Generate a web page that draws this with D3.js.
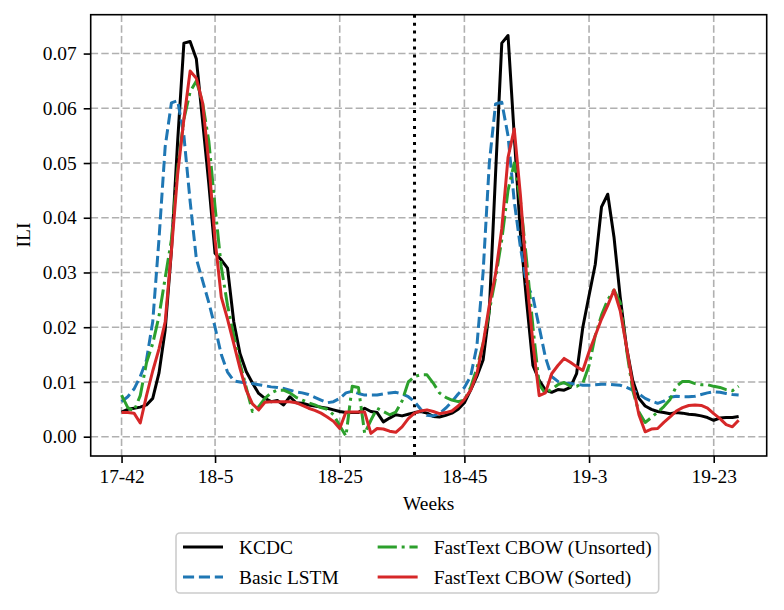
<!DOCTYPE html>
<html><head><meta charset="utf-8">
<script src="https://cdn.jsdelivr.net/npm/d3@7"></script>
<style>
body{margin:0;background:#fff}
svg{display:block}
text{font-family:"Liberation Serif","Times New Roman",serif}
</style>
</head><body>
<svg id="c" width="784" height="610"></svg>
<script>
const weekTicks=[0,15,35,55,75,95];
const weekLabels=["17-42","18-5","18-25","18-45","19-3","19-23"];
const yTicks=[0,0.01,0.02,0.03,0.04,0.05,0.06,0.07];
const splitWeek=47;

const kcdc=[0.0045,0.0050,0.0052,0.0054,0.0058,0.0070,0.0116,0.0195,0.0340,0.0540,
0.0719,0.0722,0.0690,0.0577,0.0462,0.0335,0.0323,0.0308,0.0210,0.0152,
0.0119,0.0098,0.0079,0.0070,0.0064,0.0066,0.0058,0.0073,0.0062,0.0061,
0.0058,0.0056,0.0054,0.0052,0.0049,0.0046,0.0044,0.0044,0.0044,0.0052,
0.0046,0.0044,0.0027,0.0034,0.0040,0.0038,0.0041,0.0044,0.0046,0.0043,
0.0037,0.0036,0.0039,0.0043,0.0050,0.0062,0.0085,0.0110,0.0140,0.0230,
0.0480,0.0719,0.0733,0.0550,0.0370,0.0245,0.0130,0.0103,0.0085,0.0081,
0.0086,0.0085,0.0090,0.0115,0.0200,0.0258,0.0315,0.0420,0.0443,0.0365,
0.0255,0.0164,0.0103,0.0070,0.0056,0.0050,0.0046,0.0044,0.0042,0.0044,
0.0043,0.0041,0.0040,0.0038,0.0035,0.0030,0.0034,0.0035,0.0035,0.0037];

const basicLstm=[0.0064,0.0073,0.0087,0.0110,0.0140,0.0210,0.0360,0.0530,0.0610,0.0614,
0.0550,0.0430,0.0325,0.0285,0.0245,0.0200,0.0150,0.0118,0.0102,0.0100,
0.0098,0.0097,0.0095,0.0093,0.0091,0.0090,0.0088,0.0085,0.0082,0.0080,
0.0077,0.0072,0.0067,0.0062,0.0064,0.0070,0.0080,0.0083,0.0079,0.0076,
0.0076,0.0076,0.0078,0.0080,0.0081,0.0078,0.0073,0.0064,0.0050,0.0039,
0.0038,0.0042,0.0052,0.0064,0.0078,0.0090,0.0110,0.0165,0.0300,0.0500,
0.0608,0.0611,0.0550,0.0430,0.0345,0.0279,0.0255,0.0200,0.0145,0.0110,
0.0101,0.0098,0.0097,0.0096,0.0094,0.0094,0.0095,0.0096,0.0096,0.0095,
0.0094,0.0090,0.0085,0.0078,0.0070,0.0065,0.0061,0.0065,0.0072,0.0074,
0.0073,0.0073,0.0074,0.0077,0.0080,0.0082,0.0081,0.0079,0.0077,0.0076];

const cbowUnsorted=[0.0076,0.0053,0.0047,0.0075,0.0135,0.0170,0.0220,0.0290,0.0360,0.0490,
0.0580,0.0630,0.0650,0.0610,0.0540,0.0420,0.0310,0.0240,0.0185,0.0134,
0.0090,0.0046,0.0055,0.0070,0.0080,0.0085,0.0085,0.0080,0.0072,0.0067,
0.0062,0.0058,0.0053,0.0050,0.0040,0.0020,0.0001,0.0092,0.0090,0.0006,
0.0030,0.0052,0.0046,0.0040,0.0045,0.0065,0.0100,0.0110,0.0113,0.0113,
0.0098,0.0080,0.0072,0.0067,0.0064,0.0067,0.0090,0.0125,0.0170,0.0230,
0.0290,0.0360,0.0450,0.0500,0.0430,0.0320,0.0200,0.0095,0.0079,0.0087,
0.0095,0.0099,0.0092,0.0092,0.0098,0.0130,0.0185,0.0222,0.0250,0.0268,
0.0245,0.0160,0.0085,0.0045,0.0026,0.0035,0.0045,0.0055,0.0068,0.0092,
0.0101,0.0101,0.0097,0.0095,0.0095,0.0092,0.0090,0.0086,0.0084,0.0092];

const cbowSorted=[0.0044,0.0044,0.0043,0.0025,0.0075,0.0120,0.0160,0.0210,0.0340,0.0480,
0.0580,0.0668,0.0655,0.0610,0.0500,0.0360,0.0255,0.0215,0.0170,0.0125,
0.0085,0.0060,0.0049,0.0063,0.0064,0.0064,0.0064,0.0064,0.0062,0.0057,
0.0052,0.0048,0.0043,0.0036,0.0028,0.0015,0.0045,0.0045,0.0045,0.0045,
0.0006,0.0015,0.0014,0.0010,0.0008,0.0018,0.0033,0.0043,0.0047,0.0049,
0.0046,0.0042,0.0044,0.0047,0.0056,0.0068,0.0085,0.0115,0.0170,0.0240,
0.0297,0.0380,0.0510,0.0562,0.0440,0.0290,0.0170,0.0075,0.0080,0.0115,
0.0130,0.0143,0.0136,0.0128,0.0121,0.0155,0.0185,0.0215,0.0240,0.0268,
0.0230,0.0165,0.0095,0.0040,0.0009,0.0014,0.0015,0.0026,0.0036,0.0047,
0.0053,0.0057,0.0058,0.0057,0.0052,0.0042,0.0033,0.0022,0.0018,0.0030];

const seriesNames=["KCDC","Basic LSTM","FastText CBOW (Unsorted)","FastText CBOW (Sorted)"];
const seriesData=[kcdc,basicLstm,cbowUnsorted,cbowSorted];
const seriesColors=["#000000","#1f77b4","#2ca02c","#d62728"];
const seriesDash=[null,"11.1,4.8","19.2,4.8,3,4.8",null];

const FS=19.4;
const svg=d3.select("#c");
svg.append("rect").attr("width",784).attr("height",610).attr("fill","#fff");
const L=90.7,R=766.7,T=14.7,B=456;
const x=d3.scaleLinear().domain([-4.95,103.5]).range([L,R]);
const y=d3.scaleLinear().domain([-0.00353,0.0771]).range([B,T]);

// grid
const g=svg.append("g");
g.selectAll(".vg").data(weekTicks).enter().append("line")
 .attr("x1",d=>x(d)).attr("x2",d=>x(d)).attr("y1",T).attr("y2",B)
 .attr("stroke","#b0b0b0").attr("stroke-width",1.6).attr("stroke-dasharray","7.4,3.2");
g.selectAll(".hg").data(yTicks).enter().append("line")
 .attr("x1",L).attr("x2",R).attr("y1",d=>y(d)).attr("y2",d=>y(d))
 .attr("stroke","#b0b0b0").attr("stroke-width",1.6).attr("stroke-dasharray","7.4,3.2");

// split line
svg.append("line").attr("x1",x(splitWeek)).attr("x2",x(splitWeek)).attr("y1",T).attr("y2",B)
 .attr("stroke","#000").attr("stroke-width",3).attr("stroke-dasharray","3,4.95");

// lines
const line=d3.line().x((d,i)=>x(i)).y(d=>y(d));
seriesData.forEach((s,k)=>{
  const p=svg.append("path").datum(s).attr("d",line).attr("fill","none")
   .attr("stroke",seriesColors[k]).attr("stroke-width",3).attr("stroke-linejoin","round");
  if(seriesDash[k]) p.attr("stroke-dasharray",seriesDash[k]);
});

// frame
svg.append("rect").attr("x",L).attr("y",T).attr("width",R-L).attr("height",B-T)
 .attr("fill","none").attr("stroke","#000").attr("stroke-width",1.6);

// axes
const xa=svg.append("g").attr("transform",`translate(0,${B})`)
 .call(d3.axisBottom(x).tickValues(weekTicks).tickFormat((d,i)=>weekLabels[i]).tickSize(7).tickPadding(6));
const ya=svg.append("g").attr("transform",`translate(${L},0)`)
 .call(d3.axisLeft(y).tickValues(yTicks).tickFormat(d3.format(".2f")).tickSize(7).tickPadding(7));
[xa,ya].forEach(a=>{
  a.select(".domain").remove();
  a.selectAll("line").attr("stroke","#000").attr("stroke-width",1.6);
  a.selectAll("text").attr("font-size",FS).attr("fill","#000")
   .style("font-family",'"Liberation Serif","Times New Roman",serif');
});

svg.append("text").attr("x",(L+R)/2).attr("y",510).attr("text-anchor","middle")
 .attr("font-size",FS).text("Weeks");
svg.append("text").attr("transform","translate(30,235) rotate(-90)").attr("text-anchor","middle")
 .attr("font-size",FS).text("ILI");

// legend
const lg=svg.append("g");
const box=lg.append("rect").attr("x",176).attr("y",533).attr("width",470).attr("height",60)
 .attr("rx",4).attr("fill","#fff").attr("fill-opacity",0.8).attr("stroke","#cccccc").attr("stroke-width",1.6);
const rowY=[547,577];
const colX=[183,0];
let maxEnd=0;
// first column
const texts=[];
seriesNames.forEach((n,k)=>{
  const col=Math.floor(k/2), row=k%2;
  texts.push({n,k,col,row});
});
let col1End=0;
texts.filter(t=>t.col===0).forEach(t=>{
  const hx=colX[0];
  const ln=lg.append("line").attr("x1",hx).attr("x2",hx+40).attr("y1",rowY[t.row]).attr("y2",rowY[t.row])
   .attr("stroke",seriesColors[t.k]).attr("stroke-width",3);
  if(seriesDash[t.k]) ln.attr("stroke-dasharray",seriesDash[t.k]);
  const tx=lg.append("text").attr("x",hx+56).attr("y",rowY[t.row]).attr("dy","0.34em")
   .attr("font-size",FS).text(t.n);
  col1End=Math.max(col1End,hx+56+tx.node().getComputedTextLength());
});
colX[1]=col1End+39;
texts.filter(t=>t.col===1).forEach(t=>{
  const hx=colX[1];
  const ln=lg.append("line").attr("x1",hx).attr("x2",hx+40).attr("y1",rowY[t.row]).attr("y2",rowY[t.row])
   .attr("stroke",seriesColors[t.k]).attr("stroke-width",3);
  if(seriesDash[t.k]) ln.attr("stroke-dasharray",seriesDash[t.k]);
  const tx=lg.append("text").attr("x",hx+56).attr("y",rowY[t.row]).attr("dy","0.34em")
   .attr("font-size",FS).text(t.n);
  maxEnd=Math.max(maxEnd,hx+56+tx.node().getComputedTextLength());
});
box.attr("width",maxEnd+7-176);
</script>
</body></html>
